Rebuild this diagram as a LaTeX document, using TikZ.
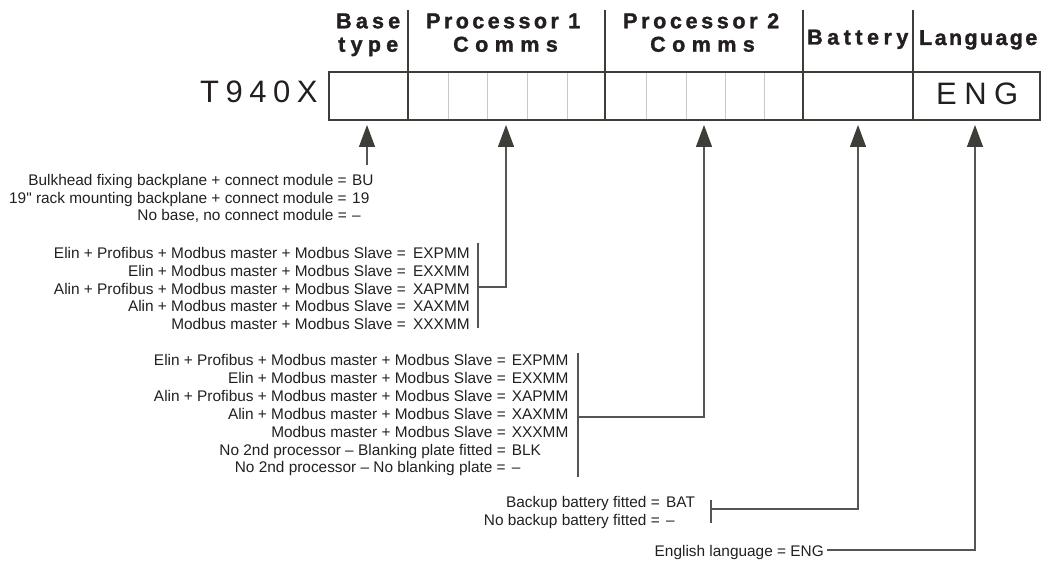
\documentclass[tikz,border=0pt]{standalone}
\usepackage{fontspec}
\setmainfont{Liberation Sans}[Ligatures=TeXOff]
\usetikzlibrary{arrows.meta}
\definecolor{linec}{HTML}{3C3F38}
\definecolor{connc}{HTML}{555555}
\definecolor{subc}{HTML}{C8C8C8}
\definecolor{txtc}{HTML}{231F20}
\newcommand{\hdtext}[2]{{\fontsize{21.5}{24}\selectfont\bfseries\addfontfeatures{LetterSpace=#1,FakeBold=1.5}#2}}
\newcommand{\bigtext}[2]{{\fontsize{31}{36}\selectfont\addfontfeatures{LetterSpace=#1}#2}}
\tikzset{
  lbl/.style={inner sep=0pt, anchor=base east, text=txtc, font=\fontsize{15.4}{17.8}\selectfont},
  val/.style={inner sep=0pt, anchor=base west, text=txtc, font=\fontsize{15.4}{17.8}\selectfont},
  hdr/.style={inner sep=0pt, anchor=base west, text=txtc},
  frame/.style={draw=linec, line width=2pt},
  divider/.style={draw=linec, line width=2pt},
  hline/.style={draw=linec, line width=1.5pt},
  subdiv/.style={draw=subc, line width=1pt},
  conn/.style={draw=connc, line width=1.3pt},
  pointer/.style={draw=connc, line width=1.3pt, -{Triangle[length=22pt,width=16pt,fill=linec,color=linec]}},
}
\begin{document}
\begin{tikzpicture}[x=1pt,y=-1pt]
\useasboundingbox (0,0) rectangle (1042,561);
% header lines
\foreach \xx in {408,605,803,913} {\draw[hline] (\xx,10) -- (\xx,72);}
% sub-dividers
\foreach \xx in {448,487,527,567,646,686,725,764} {\draw[subdiv] (\xx,72) -- (\xx,120);}
% dividers
\foreach \xx in {408,605,803,913} {\draw[divider] (\xx,72) -- (\xx,120);}
% frame
\draw[frame] (329,72) rectangle (1040,120);
% headers
\node[hdr] (hbase) at (336,28.3) {\hdtext{19.5}{Base}};
\node[hdr] (htype) at (338,51.7) {\hdtext{24.5}{type}};
\node[hdr] (hp1) at (426,28.3) {\hdtext{16}{Processor 1}};
\node[hdr] (hc1) at (453,51.7) {\hdtext{30}{Comms}};
\node[hdr] (hp2) at (623,28.3) {\hdtext{17}{Processor 2}};
\node[hdr] (hc2) at (650,51.7) {\hdtext{30}{Comms}};
\node[hdr] (hbat) at (807,44.5) {\hdtext{21}{Battery}};
\node[hdr] (hlang) at (919,45) {\hdtext{11}{Language}};
\node[hdr] (model) at (200,102.3) {\bigtext{21}{T940X}};
\node[hdr] (eng) at (936,105) {\bigtext{24}{ENG}};
% base type block
\node[lbl] (b1) at (347,185.7) {Bulkhead fixing backplane + connect module =};
\node[val] (b1v) at (352,185.7) {BU};
\node[lbl] (b2) at (347,203.2) {19" rack mounting backplane + connect module =};
\node[val] (b2v) at (352,203.2) {19};
\node[lbl] (b3) at (347,220.7) {No base, no connect module =};
\node[val] (b3v) at (352,220.7) {–};
% processor 1 block
\node[lbl] (p1a) at (406,258.3) {Elin + Profibus + Modbus master + Modbus Slave =};
\node[val] (p1av) at (413,258.3) {EXPMM};
\node[lbl] (p1b) at (406,276.2) {Elin + Modbus master + Modbus Slave =};
\node[val] (p1bv) at (413,276.2) {EXXMM};
\node[lbl] (p1c) at (406,294.1) {Alin + Profibus + Modbus master + Modbus Slave =};
\node[val] (p1cv) at (413,294.1) {XAPMM};
\node[lbl] (p1d) at (406,312) {Alin + Modbus master + Modbus Slave =};
\node[val] (p1dv) at (413,312) {XAXMM};
\node[lbl] (p1e) at (406,330) {Modbus master + Modbus Slave =};
\node[val] (p1ev) at (413,330) {XXXMM};
% processor 2 block
\node[lbl] (p2a) at (506,366) {Elin + Profibus + Modbus master + Modbus Slave =};
\node[val] (p2av) at (511.7,366) {EXPMM};
\node[lbl] (p2b) at (506,383.8) {Elin + Modbus master + Modbus Slave =};
\node[val] (p2bv) at (511.7,383.8) {EXXMM};
\node[lbl] (p2c) at (506,401.6) {Alin + Profibus + Modbus master + Modbus Slave =};
\node[val] (p2cv) at (511.7,401.6) {XAPMM};
\node[lbl] (p2d) at (506,419.4) {Alin + Modbus master + Modbus Slave =};
\node[val] (p2dv) at (511.7,419.4) {XAXMM};
\node[lbl] (p2e) at (506,437.2) {Modbus master + Modbus Slave =};
\node[val] (p2ev) at (511.7,437.2) {XXXMM};
\node[lbl] (p2f) at (506,455) {No 2nd processor – Blanking plate fitted =};
\node[val] (p2fv) at (511.7,455) {BLK};
\node[lbl] (p2g) at (506,472.8) {No 2nd processor – No blanking plate =};
\node[val] (p2gv) at (511.7,472.8) {–};
% battery block
\node[lbl] (bat1) at (660,507.3) {Backup battery fitted =};
\node[val] (bat1v) at (666,507.3) {BAT};
\node[lbl] (bat2) at (660,525) {No backup battery fitted =};
\node[val] (bat2v) at (666,525) {–};
% language
\node[lbl] (lang) at (824,556) {English language = ENG};
% coordinates
\coordinate (tb) at (367,125);
\coordinate (tp1) at (506,125);
\coordinate (tp2) at (704,125);
\coordinate (tbat) at (858,125);
\coordinate (tlang) at (975,125);
\coordinate (sb) at (367,165);
\coordinate (br1t) at (478,243);
\coordinate (br1b) at (478,328);
\coordinate (br1m) at (478,287);
\coordinate (c1) at (506,287);
\coordinate (br2t) at (578,353);
\coordinate (br2b) at (578,477);
\coordinate (br2m) at (578,417);
\coordinate (c2) at (704,417);
\coordinate (br3t) at (711,500);
\coordinate (br3b) at (711,523);
\coordinate (br3m) at (711,509);
\coordinate (c3) at (858,509);
\coordinate (c4) at (975,550);
\coordinate (lend) at (827,550);
% brackets
\draw[conn] (br1t) -- (br1b);
\draw[conn] (br2t) -- (br2b);
\draw[conn] (br3t) -- (br3b);
% pointers
\draw[pointer] (sb) -- (tb);
\draw[pointer] (br1m) -- (c1) -- (tp1);
\draw[pointer] (br2m) -- (c2) -- (tp2);
\draw[pointer] (br3m) -- (c3) -- (tbat);
\draw[pointer] (lend) -- (c4) -- (tlang);
\end{tikzpicture}
\end{document}
